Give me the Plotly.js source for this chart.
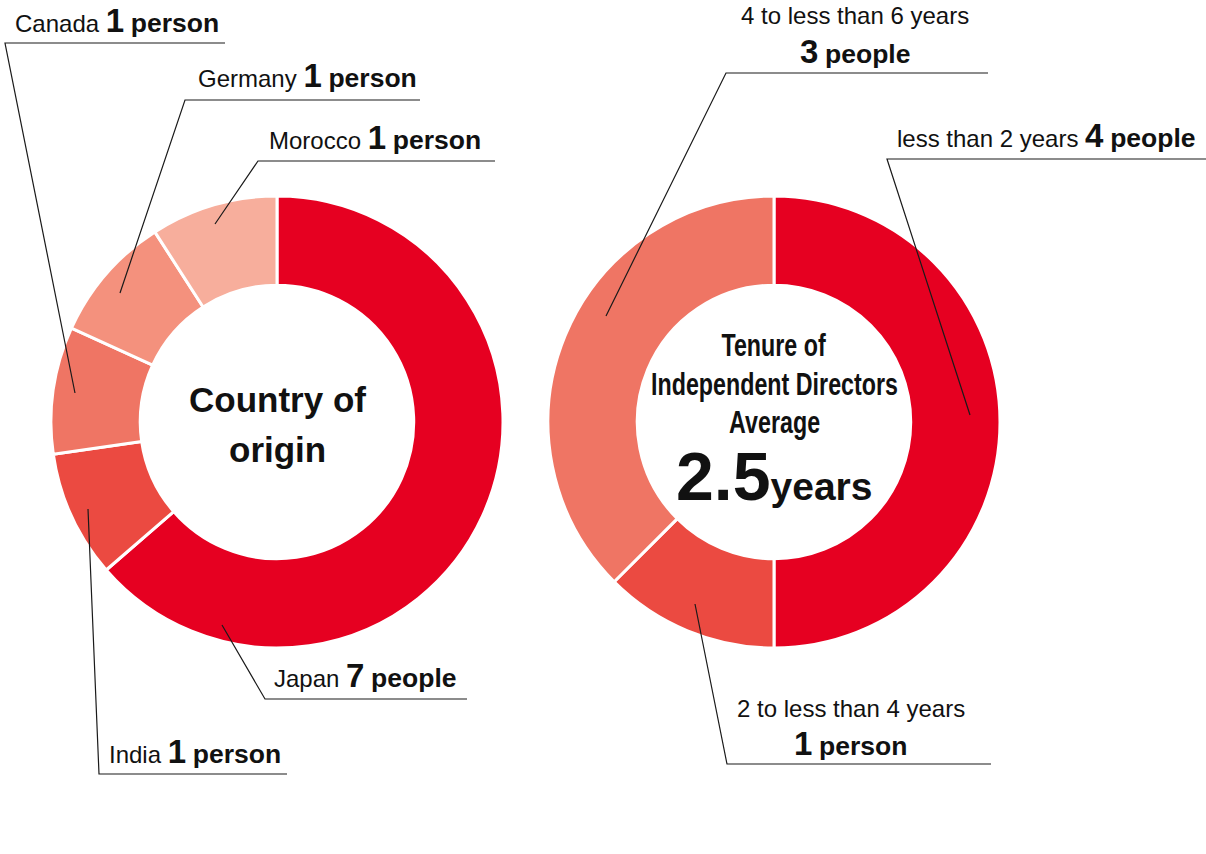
<!DOCTYPE html>
<html>
<head>
<meta charset="utf-8">
<script src="https://cdn.plot.ly/plotly-3.0.1.min.js"></script>
<style>
html,body{margin:0;padding:0;background:#fff;}
#chart{width:1206px;height:854px;}
</style>
</head>
<body>
<div id="chart"></div>
<script>
// ---- data ----
const countryLabels = ['Japan', 'India', 'Canada', 'Germany', 'Morocco'];
const countryValues = [7, 1, 1, 1, 1];
const countryColors = ['#E60021', '#EB4A41', '#EF7564', '#F4917D', '#F7AE9C'];

const tenureLabels = ['less than 2 years', '2 to less than 4 years', '4 to less than 6 years'];
const tenureValues = [4, 1, 3];
const tenureColors = ['#E60021', '#EB4A41', '#EF7564'];

const averageTenure = 2.5;
const leftCenterTitle = ['Country of', 'origin'];
const rightCenterTitle = ['Tenure of', 'Independent Directors', 'Average'];

// ---- helpers ----
const W = 1206, H = 854;
const px = x => x / W;
const py = y => 1 - y / H;
const FONT = 'Liberation Sans, Arial, Helvetica, sans-serif';
const unit = v => v === 1 ? 'person' : 'people';
const countStr = v => `<b><span style="font-size:33px">${v}</span> <span style="font-size:26.5px">${unit(v)}</span></b>`;

const traces = [
  {
    type: 'pie', labels: countryLabels, values: countryValues, sort: false,
    direction: 'clockwise', rotation: 0, hole: 0.605,
    marker: {colors: countryColors, line: {color: '#ffffff', width: 3}},
    textinfo: 'none', hoverinfo: 'label+value', showlegend: false,
    domain: {x: [px(51), px(503)], y: [py(648), py(196)]}
  },
  {
    type: 'pie', labels: tenureLabels, values: tenureValues, sort: false,
    direction: 'clockwise', rotation: 0, hole: 0.605,
    marker: {colors: tenureColors, line: {color: '#ffffff', width: 3}},
    textinfo: 'none', hoverinfo: 'label+value', showlegend: false,
    domain: {x: [px(548), px(1000)], y: [py(648), py(196)]}
  }
];

// leader lines (label layout, pixel positions)
const leaders = [
  [[75, 393], [5, 43], [225, 43]],       // Canada
  [[120, 293], [185, 100], [420, 100]],  // Germany
  [[215, 224], [258, 161], [495, 161]],  // Morocco
  [[88, 509], [99, 774], [287, 774]],    // India
  [[222, 625], [265, 699], [467, 699]],  // Japan
  [[606, 316], [726, 73], [988, 73]],    // 4-6
  [[970, 415], [887, 159], [1206, 159]], // <2
  [[695, 604], [727, 764], [991, 764]]   // 2-4
];
const shapes = leaders.map(pts => ({
  type: 'path', xref: 'paper', yref: 'paper',
  path: pts.map((p, i) => (i ? 'L' : 'M') + px(p[0]) + ',' + py(p[1])).join(' '),
  line: {color: '#1a1a1a', width: 1.2}
}));

const baseAnn = {xref: 'paper', yref: 'paper', showarrow: false, font: {family: FONT, size: 24, color: '#111111'}};
function ann(text, x, baseline, xanchor, maxSize, extra) {
  return Object.assign({}, baseAnn, {
    text: text, x: px(x), y: py(baseline - 0.35 * maxSize), xanchor: xanchor, yanchor: 'middle'
  }, extra || {});
}

const annotations = [
  ann(`${countryLabels[2]} ${countStr(countryValues[2])}`, 13, 32, 'left', 33),
  ann(`${countryLabels[3]} ${countStr(countryValues[3])}`, 196, 87, 'left', 33),
  ann(`${countryLabels[4]} ${countStr(countryValues[4])}`, 267, 149, 'left', 33),
  ann(`${countryLabels[1]} ${countStr(countryValues[1])}`, 107, 763, 'left', 33),
  ann(`${countryLabels[0]} ${countStr(countryValues[0])}`, 272, 687, 'left', 33),

  ann(tenureLabels[2], 855, 24, 'center', 24),
  ann(countStr(tenureValues[2]), 855, 63, 'center', 33),
  ann(`${tenureLabels[0]} ${countStr(tenureValues[0])}`, 895, 147, 'left', 33),
  ann(tenureLabels[1], 851, 717, 'center', 24),
  ann(countStr(tenureValues[1]), 851, 755, 'center', 33),

  ann(`<b>${leftCenterTitle[0]}</b>`, 277, 412, 'center', 35, {font: {family: FONT, size: 35, color: '#111111'}}),
  ann(`<b>${leftCenterTitle[1]}</b>`, 277, 462, 'center', 35, {font: {family: FONT, size: 35, color: '#111111'}}),

  ann(`<b>${rightCenterTitle[0]}</b>`, 774, 356, 'center', 31, {font: {family: FONT, size: 31, color: '#111111'}}),
  ann(`<b>${rightCenterTitle[1]}</b>`, 774, 395, 'center', 31, {font: {family: FONT, size: 31, color: '#111111'}}),
  ann(`<b>${rightCenterTitle[2]}</b>`, 774, 433, 'center', 31, {font: {family: FONT, size: 31, color: '#111111'}}),
  ann(`<b><span style="font-size:68px">${averageTenure}</span>years</b>`, 774, 500, 'center', 68, {font: {family: FONT, size: 39, color: '#111111'}})
];
const condensedIdx = [12, 13, 14];
const condensedWidth = 247; // width of "Independent Directors" in the reference

const layout = {
  width: W, height: H,
  margin: {l: 0, r: 0, t: 0, b: 0},
  paper_bgcolor: '#ffffff', plot_bgcolor: '#ffffff',
  showlegend: false,
  shapes: shapes,
  annotations: annotations
};

Plotly.newPlot('chart', traces, layout, {displayModeBar: false, staticPlot: true}).then(gd => {
  // emulate the condensed typeface of the centre caption
  const groups = Array.from(gd.querySelectorAll('.annotation'));
  const byIdx = i => groups.find(el => +el.getAttribute('data-index') === i);
  const ref = byIdx(13);
  if (!ref) return;
  const sx = condensedWidth / ref.querySelector('text.annotation-text').getBBox().width;
  condensedIdx.forEach(i => {
    const g = byIdx(i);
    if (!g) return;
    const t = g.querySelector('text.annotation-text');
    if (!t) return;
    const bb = t.getBBox();
    const cx = bb.x + bb.width / 2;
    t.setAttribute('transform', `translate(${cx},0) scale(${sx},1) translate(${-cx},0)`);
  });
});
</script>
</body>
</html>
